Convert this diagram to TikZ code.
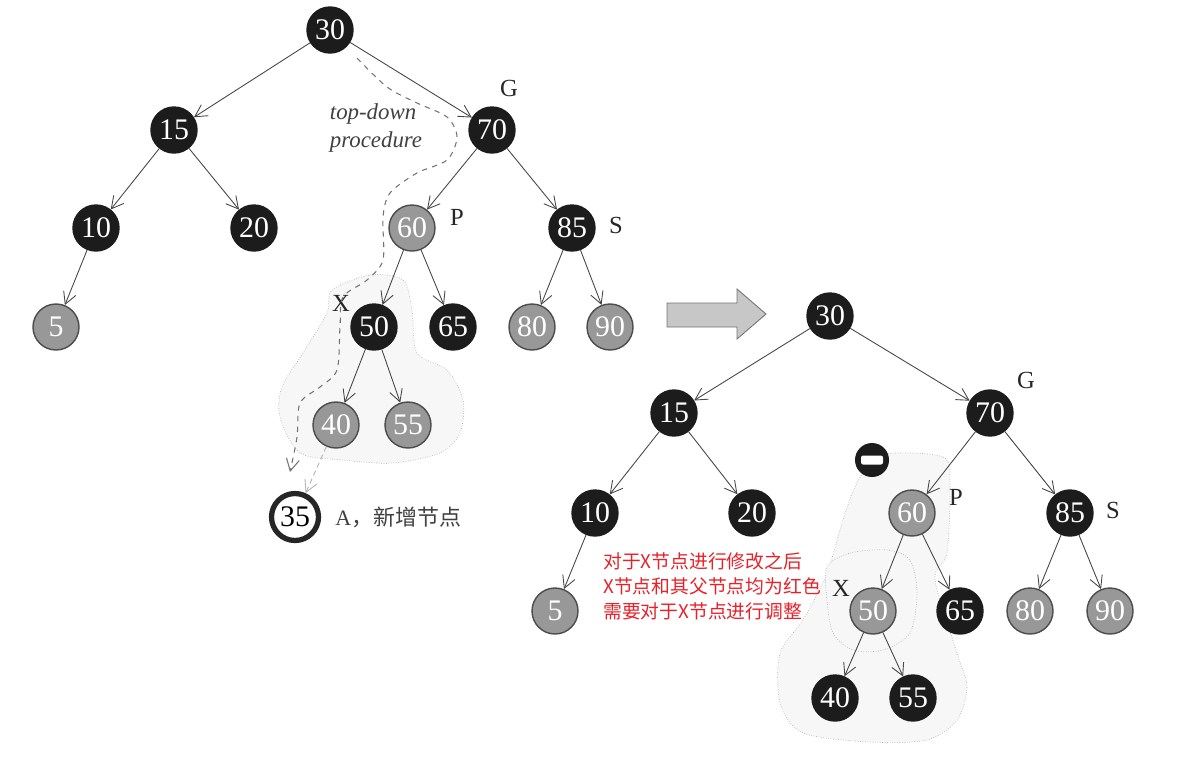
\documentclass[tikz,border=0pt]{standalone}
\usepackage{fontspec}
\setmainfont{Liberation Serif}
\newfontfamily\cjk{Noto Sans CJK SC}
\usetikzlibrary{arrows.meta,positioning,calc}
\definecolor{nodeblack}{RGB}{28,28,28}
\definecolor{nodegray}{RGB}{152,152,152}
\definecolor{edgegray}{RGB}{70,70,70}
\definecolor{blobgray}{RGB}{247,247,247}
\definecolor{notered}{RGB}{232,32,40}
\tikzset{
  rbnode/.style={
    circle,draw=nodeblack,line width=0.8pt,minimum size=9.2mm,inner sep=0pt,
    text=white,font=\fontsize{17}{17}\selectfont
  },
  blacknode/.style={rbnode,fill=nodeblack},
  graynode/.style={rbnode,fill=nodegray,draw=black!70},
  newnode/.style={rbnode,fill=white,text=black,draw=black!85,line width=3pt,minimum size=9.4mm},
  minusnode/.style={circle,fill=nodeblack,minimum size=6.8mm,inner sep=0pt},
  treeedge/.style={-{Straight Barb[length=2.4mm,width=2.6mm]},draw=edgegray,line width=0.5pt},
  insertedge/.style={treeedge,densely dashed,draw=black!30},
  pathline/.style={-{Straight Barb[length=2.4mm,width=2.6mm]},dashed,draw=black!55,line width=0.6pt},
  roleletter/.style={font=\fontsize{14}{14}\selectfont,text=black!85},
  blob/.style={draw=black!30,densely dotted,fill=blobgray,line width=0.4pt},
  bigarrow/.style={draw=black!55,fill=black!22,line width=0.5pt}
}
\begin{document}
\begin{tikzpicture}[x=0.2mm,y=-0.2mm]
  \useasboundingbox (0,0) rectangle (1178,758);
  % shaded regions
  \draw[blob] plot[smooth cycle] coordinates {
    (332,290) (370,275) (403,280) (412,310) (417,353) (447,370) (463,400)
    (460,433) (440,453) (393,463) (343,460) (300,453) (280,417) (282,387)
    (303,353) (327,313)};
  \draw[blob] plot[smooth cycle] coordinates {
    (880,455) (943,457) (950,487) (947,553) (935,580) (957,653) (967,687)
    (957,720) (927,740) (870,742) (803,733) (780,703) (780,653) (803,620)
    (827,573) (843,520) (857,483)};
  \draw[blob] plot[smooth cycle] coordinates {
    (827,567) (850,553) (887,550) (910,560) (917,593) (910,633) (883,650)
    (853,650) (833,633) (827,600)};

  % left tree
  \node[blacknode] (l30) at (330,30) {30};
  \node[blacknode] (l15) at (174,130) {15};
  \node[blacknode] (l70) at (492,130) {70};
  \node[blacknode] (l10) at (96,228) {10};
  \node[blacknode] (l20) at (254,228) {20};
  \node[graynode]  (l60) at (412,228) {60};
  \node[blacknode] (l85) at (572,228) {85};
  \node[graynode]  (l5)  at (56,327) {5};
  \node[blacknode] (l50) at (374,327) {50};
  \node[blacknode] (l65) at (453,327) {65};
  \node[graynode]  (l80) at (532,327) {80};
  \node[graynode]  (l90) at (610,327) {90};
  \node[graynode]  (l40) at (336,425) {40};
  \node[graynode]  (l55) at (408,425) {55};
  \node[newnode]   (l35) at (295,517) {35};
  \node[roleletter] (lg) at (509,88) {G};
  \node[roleletter] (lp) at (457,217) {P};
  \node[roleletter] (ls) at (616,225) {S};
  \node[roleletter] (lx) at (341,303) {X};
  \node[font=\fontsize{13}{16}\selectfont\itshape,text=black!75,align=left]
    (topdown) at (376,128) {top-down\\procedure};
  \node[anchor=west,text=black!75,inner sep=0pt,font=\fontsize{12.5}{12.5}\selectfont]
    (newlabel) at (335,517) {A{\cjk ，新增节点}};

  \draw[treeedge] (l30) -- (l15);
  \draw[treeedge] (l30) -- (l70);
  \draw[treeedge] (l15) -- (l10);
  \draw[treeedge] (l15) -- (l20);
  \draw[treeedge] (l10) -- (l5);
  \draw[treeedge] (l70) -- (l60);
  \draw[treeedge] (l70) -- (l85);
  \draw[treeedge] (l60) -- (l50);
  \draw[treeedge] (l60) -- (l65);
  \draw[treeedge] (l85) -- (l80);
  \draw[treeedge] (l85) -- (l90);
  \draw[treeedge] (l50) -- (l40);
  \draw[treeedge] (l50) -- (l55);
  \draw[insertedge] (l40) -- (l35);
  % top-down search path
  \draw[pathline] plot[smooth] coordinates {
    (357,58) (387,87) (417,103) (447,117) (457,137) (447,160) (417,173)
    (390,193) (383,217) (383,260) (367,280) (343,297) (340,327) (337,370)
    (320,387) (300,403) (297,437) (290,472)};

  % transform arrow
  \draw[bigarrow] (667,303) -- (737,303) -- (737,289) -- (766,314)
    -- (737,339) -- (737,327) -- (667,327) -- cycle;

  % right tree
  \node[blacknode] (r30) at (830,316) {30};
  \node[blacknode] (r15) at (674,413) {15};
  \node[blacknode] (r70) at (990,413) {70};
  \node[blacknode] (r10) at (595,513) {10};
  \node[blacknode] (r20) at (752,513) {20};
  \node[graynode]  (r60) at (912,513) {60};
  \node[blacknode] (r85) at (1070,513) {85};
  \node[graynode]  (r5)  at (555,611) {5};
  \node[graynode]  (r50) at (873,611) {50};
  \node[blacknode] (r65) at (960,611) {65};
  \node[graynode]  (r80) at (1030,611) {80};
  \node[graynode]  (r90) at (1110,611) {90};
  \node[blacknode] (r40) at (835,698) {40};
  \node[blacknode] (r55) at (913,698) {55};
  \node[minusnode] (minus) at (872,460) {};
  \fill[white,rounded corners=1.2pt] ($(minus)+(-11,-4.5)$) rectangle ($(minus)+(11,4.5)$);
  \node[roleletter] (rg) at (1026,380) {G};
  \node[roleletter] (rp) at (956,497) {P};
  \node[roleletter] (rs) at (1113,510) {S};
  \node[roleletter] (rx) at (841,588) {X};
  \node[anchor=north west,align=left,text=notered,inner sep=0pt,
    font=\cjk\fontsize{10.7}{14.2}\selectfont] (note) at (603,552)
    {对于X节点进行修改之后\\X节点和其父节点均为红色\\需要对于X节点进行调整};

  \draw[treeedge] (r30) -- (r15);
  \draw[treeedge] (r30) -- (r70);
  \draw[treeedge] (r15) -- (r10);
  \draw[treeedge] (r15) -- (r20);
  \draw[treeedge] (r10) -- (r5);
  \draw[treeedge] (r70) -- (r60);
  \draw[treeedge] (r70) -- (r85);
  \draw[treeedge] (r60) -- (r50);
  \draw[treeedge] (r60) -- (r65);
  \draw[treeedge] (r85) -- (r80);
  \draw[treeedge] (r85) -- (r90);
  \draw[treeedge] (r50) -- (r40);
  \draw[treeedge] (r50) -- (r55);
\end{tikzpicture}
\end{document}
